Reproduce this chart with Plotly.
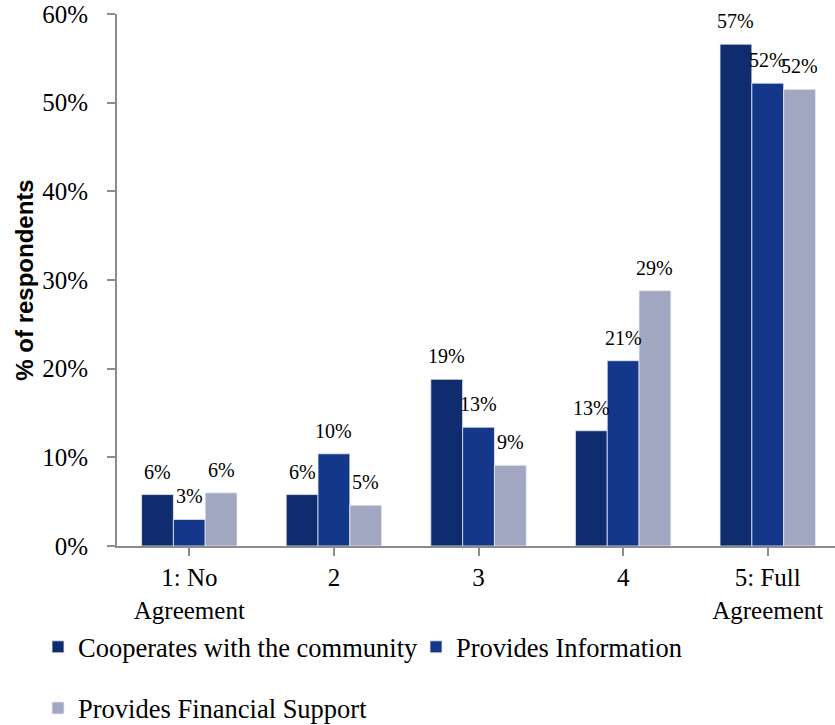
import plotly.graph_objects as go

# Survey responses by level of agreement
categories = ["1: No<br>Agreement", "2", "3", "4", "5: Full<br>Agreement"]
series_names = [
    "Cooperates with the community",
    "Provides Information",
    "Provides Financial Support",
]
cooperates = [0.058, 0.058, 0.188, 0.130, 0.566]
information = [0.030, 0.104, 0.134, 0.209, 0.522]
financial = [0.060, 0.046, 0.091, 0.288, 0.515]
y_ticks = [0.0, 0.1, 0.2, 0.3, 0.4, 0.5, 0.6]

series_values = [cooperates, information, financial]
colors = ["#0F2C6E", "#143789", "#A2A7C1"]
legend_ids = ["legend", "legend", "legend2"]

BARGAP = 0.34
serif = "Liberation Serif, Times New Roman, serif"
axis_grey = "#8C8C8C"

fig = go.Figure()
for name, vals, col, lg in zip(series_names, series_values, colors, legend_ids):
    fig.add_trace(go.Bar(
        name=name,
        x=list(range(len(categories))),
        y=vals,
        marker=dict(color=col, line=dict(color="rgba(230,235,245,0.8)", width=1)),
        legend=lg,
        hoverinfo="skip",
    ))

# Value labels above each bar, placed at each bar's centre within its group
n_series = len(series_values)
bar_w = (1 - BARGAP) / n_series
annotations = []
for i, vals in enumerate(series_values):
    offset = (i - (n_series - 1) / 2) * bar_w
    for j, v in enumerate(vals):
        annotations.append(dict(
            x=j + offset, y=v, xref="x", yref="y",
            text=f"{round(v * 100):.0f}%",
            showarrow=False, yanchor="bottom", xanchor="center", yshift=10,
            font=dict(family=serif, size=20, color="#000000"),
        ))

legend_font = dict(family=serif, size=26.5, color="#000000")

fig.update_layout(
    width=835, height=725,
    margin=dict(l=117, r=0, t=14, b=179, autoexpand=False),
    paper_bgcolor="white", plot_bgcolor="white",
    barmode="group", bargap=BARGAP, bargroupgap=0,
    annotations=annotations,
    font=dict(family=serif, size=25, color="#000000"),
    xaxis=dict(
        tickmode="array",
        tickvals=list(range(len(categories))),
        ticktext=categories,
        range=[-0.5, 4.465],
        showline=True, linecolor=axis_grey, linewidth=2,
        ticks="outside", ticklen=8, tickwidth=2, tickcolor=axis_grey,
        tickson="boundaries",
        showgrid=False, zeroline=False,
        tickfont=dict(family=serif, size=25, color="#000000"),
        ticklabelstandoff=0,
    ),
    yaxis=dict(
        range=[0, 0.6],
        tickmode="array", tickvals=y_ticks, tickformat=".0%",
        showline=True, linecolor=axis_grey, linewidth=2,
        ticks="outside", ticklen=8, tickwidth=2, tickcolor=axis_grey,
        showgrid=False, zeroline=False,
        tickfont=dict(family=serif, size=25, color="#000000"),
        ticklabelstandoff=14,
        title=dict(
            text="% of respondents",
            font=dict(family="Liberation Sans, Arial, sans-serif", size=24, color="#000000",
                      weight="bold"),
            standoff=2,
        ),
    ),
    legend=dict(
        orientation="h", x=-0.110, xanchor="left", y=-0.190, yanchor="middle",
        font=legend_font, entrywidth=333, entrywidthmode="pixels",
        bgcolor="rgba(0,0,0,0)", traceorder="normal",
    ),
    legend2=dict(
        orientation="h", x=-0.110, xanchor="left", y=-0.305, yanchor="middle",
        font=legend_font,
        bgcolor="rgba(0,0,0,0)",
    ),
)

fig.write_html("out.html")
